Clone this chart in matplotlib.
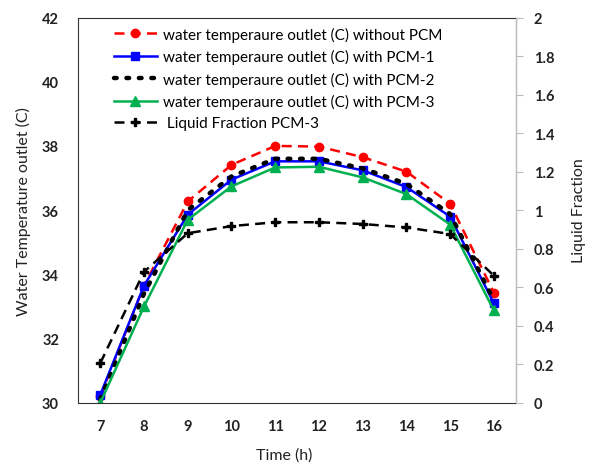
import matplotlib.pyplot as plt
import numpy as np

plt.rcParams['font.family'] = ['Lato', 'DejaVu Sans']

hours = [7, 8, 9, 10, 11, 12, 13, 14, 15, 16]

no_pcm = [30.2, 33.65, 36.27, 37.41, 38.0, 37.98, 37.65, 37.2, 36.2, 33.43]
pcm_1 = [30.25, 33.65, 35.86, 36.95, 37.52, 37.52, 37.24, 36.72, 35.8, 33.1]
pcm_2 = [30.1, 33.4, 36.0, 37.05, 37.6, 37.6, 37.3, 36.82, 35.88, 33.2]
pcm_3 = [30.0, 33.0, 35.7, 36.74, 37.33, 37.35, 37.02, 36.5, 35.55, 32.88]
liquid_frac = [0.206, 0.68, 0.88, 0.917, 0.937, 0.937, 0.928, 0.91, 0.876, 0.66]

fig = plt.figure(figsize=(5.9, 4.64), dpi=100)
ax = fig.add_axes([0.133, 0.13, 0.741, 0.83])
ax2 = ax.twinx()

l1, = ax.plot(hours, no_pcm, color='#ff0000', ls=(0, (4, 2.5)), lw=1.8, marker='o', ms=6,
              label='water temperaure outlet (C) without PCM')
l2, = ax.plot(hours, pcm_1, color='#0000ff', lw=1.8, marker='s', ms=6,
              label='water temperaure outlet (C) with PCM-1')
l3, = ax.plot(hours, pcm_2, color='black', ls=(0, (0.6, 2.2)), lw=3.2, dash_capstyle='round',
              label='water temperaure outlet (C) with PCM-2')
l4, = ax.plot(hours, pcm_3, color='#00b050', lw=1.8, marker='^', ms=7,
              label='water temperaure outlet (C) with PCM-3')
l5, = ax2.plot(hours, liquid_frac, color='black', ls=(0, (4, 2.5)), lw=1.8, marker='P', ms=6,
               label=' Liquid Fraction PCM-3')

ax.set_xlim(6.5, 16.5)
ax.set_ylim(30, 42)
ax2.set_ylim(0, 2)
ax.set_xticks(hours)
ax.set_yticks(np.arange(30, 43, 2))
ax2.set_yticks(np.arange(0, 2.01, 0.2))
ax2.set_yticklabels(['0', '0.2', '0.4', '0.6', '0.8', '1', '1.2', '1.4', '1.6', '1.8', '2'])

for lab in ax.get_xticklabels() + ax.get_yticklabels() + ax2.get_yticklabels():
    lab.set_fontweight('bold')
    lab.set_fontsize(10.5)
    lab.set_color('#222222')

ax.tick_params(axis='both', length=0, pad=12)
ax.tick_params(axis='y', pad=14)
ax2.tick_params(axis='y', length=5, color='#bbbbbb', pad=8)

for s in ['left', 'top', 'bottom']:
    ax.spines[s].set_color('#333333')
ax2.spines['right'].set_color('#bbbbbb')
for s in ['left', 'top', 'bottom']:
    ax2.spines[s].set_visible(False)

ax.set_xlabel('Time (h)', fontsize=11.5, color='#222222', labelpad=10, x=0.47)
ax.set_ylabel('Water Temperature outlet (C)', fontsize=11.5, color='#222222', labelpad=8)
ax2.set_ylabel('Liquid Fraction', fontsize=11.5, color='#222222', labelpad=13)

ax.legend(handles=[l1, l2, l3, l4, l5], loc='upper left', bbox_to_anchor=(0.06, 1.0),
          frameon=False, fontsize=11, handlelength=2.8, handletextpad=0.4,
          labelspacing=0.48, borderaxespad=0.2)

fig.savefig('out.png', dpi=100)
